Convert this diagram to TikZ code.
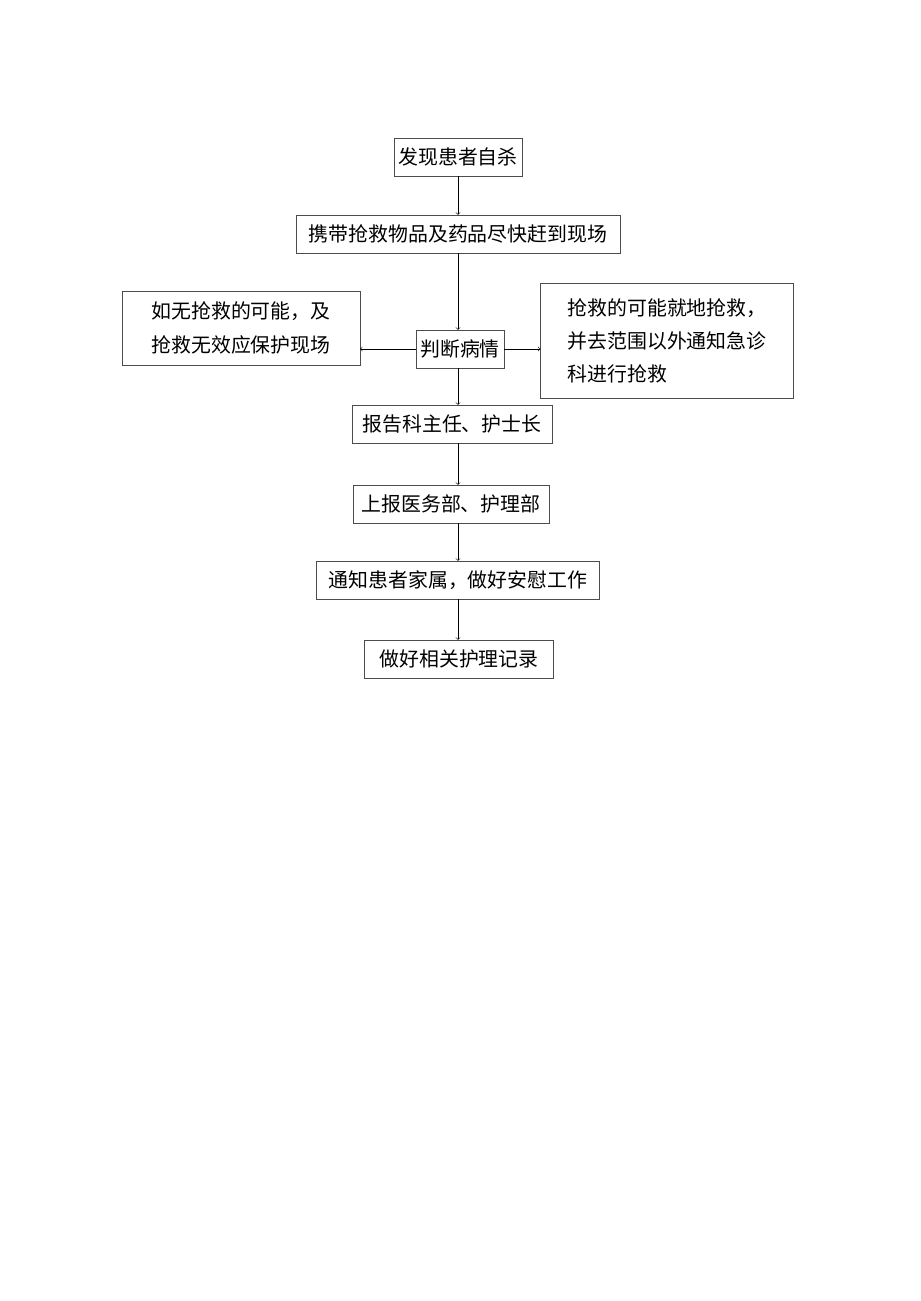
\documentclass[tikz,border=0pt]{standalone}
\usepackage{fontspec}
\setmainfont{Noto Sans CJK SC}
\usetikzlibrary{positioning}
\begin{document}
\begin{tikzpicture}[x=0.0265cm,y=-0.0265cm,thin,
stepbox/.style={draw=black!70,rectangle,inner sep=3pt,minimum height=1cm,font=\fontsize{15pt}{25pt}\selectfont},
sidebox/.style={stepbox,align=left,inner sep=8pt}]
\useasboundingbox (0,0) rectangle (920,1301);

\node[stepbox,minimum width=3.4cm] (find) at (458,157) {发现患者自杀};
\node[stepbox,minimum width=8.6cm] (carry) at (458,234) {携带抢救物品及药品尽快赶到现场};
\node[stepbox] (judge) at (460,349) {判断病情};
\node[sidebox,minimum width=6.3cm,minimum height=1.95cm] (left) at (241,328) {如无抢救的可能，及\\抢救无效应保护现场};
\node[sidebox,minimum width=6.7cm,minimum height=3.05cm] (right) at (667,341) {抢救的可能就地抢救，\\并去范围以外通知急诊\\科进行抢救};
\node[stepbox,minimum width=5.3cm] (report) at (452,424) {报告科主任、护士长};
\node[stepbox,minimum width=5.2cm] (upper) at (451,504) {上报医务部、护理部};
\node[stepbox,minimum width=7.5cm] (notify) at (458,580) {通知患者家属，做好安慰工作};
\node[stepbox,minimum width=5cm] (record) at (459,659) {做好相关护理记录};

\draw[->] (find) -- (carry);
\draw[->] (carry.south -| find) -- (judge.north -| find);
\draw[->] (judge) -- (left.east |- judge);
\draw[->] (judge) -- (right.west |- judge);
\draw[->] (judge.south -| find) -- (report.north -| find);
\draw[->] (report.south -| find) -- (upper.north -| find);
\draw[->] (upper.south -| find) -- (notify.north -| find);
\draw[->] (notify.south -| find) -- (record.north -| find);
\end{tikzpicture}
\end{document}
